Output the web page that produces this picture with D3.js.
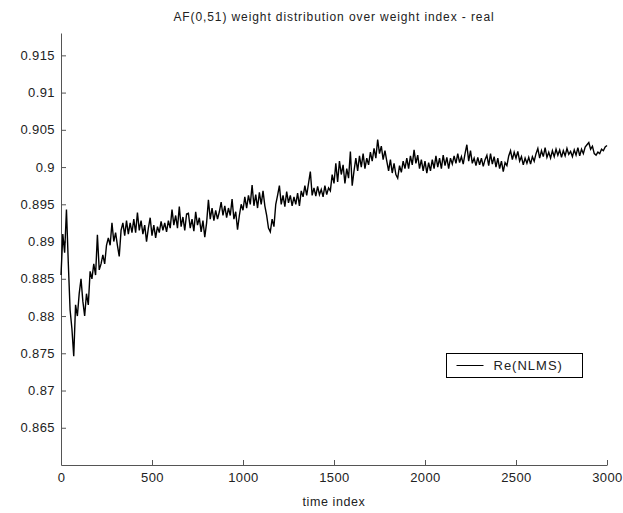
<!DOCTYPE html>
<html>
<head>
<meta charset="utf-8">
<script src="https://cdn.jsdelivr.net/npm/d3@7"></script>
<style>
  body { margin: 0; background: #fff; }
  .chart text { font-family: "Liberation Sans", Arial, sans-serif; fill: #222; }
</style>
</head>
<body>
<div class="chart"></div>
<script>
const timeStep = 10;
const weightRe = [
  0.8855, 0.8910, 0.8885, 0.8943, 0.8872, 0.8808, 0.8783, 0.8746, 0.8815, 0.8800,
  0.8830, 0.8850, 0.8820, 0.8800, 0.8830, 0.8815, 0.8860, 0.8850, 0.8870, 0.8855,
  0.8909, 0.8862, 0.8870, 0.8882, 0.8870, 0.8895, 0.8905, 0.8895, 0.8925, 0.8900,
  0.8912, 0.8895, 0.8880, 0.8915, 0.8925, 0.8908, 0.8928, 0.8910, 0.8925, 0.8912,
  0.8930, 0.8912, 0.8939, 0.8915, 0.8928, 0.8910, 0.8922, 0.8900, 0.8918, 0.8932,
  0.8908, 0.8922, 0.8905, 0.8920, 0.8912, 0.8927, 0.8915, 0.8925, 0.8913, 0.8928,
  0.8918, 0.8943, 0.8922, 0.8935, 0.8918, 0.8947, 0.8920, 0.8933, 0.8915, 0.8937,
  0.8938, 0.8918, 0.8930, 0.8914, 0.8940, 0.8922, 0.8932, 0.8913, 0.8928, 0.8906,
  0.8925, 0.8956, 0.8930, 0.8945, 0.8928, 0.8942, 0.8930, 0.8940, 0.8953, 0.8935,
  0.8948, 0.8932, 0.8945, 0.8935, 0.8957, 0.8930, 0.8940, 0.8916, 0.8935, 0.8950,
  0.8942, 0.8960, 0.8945, 0.8962, 0.8950, 0.8976, 0.8948, 0.8963, 0.8945, 0.8966,
  0.8950, 0.8968, 0.8948, 0.8935, 0.8918, 0.8913, 0.8930, 0.8920, 0.8950, 0.8962,
  0.8975, 0.8950, 0.8962, 0.8947, 0.8967, 0.8952, 0.8962, 0.8948, 0.8960, 0.8950,
  0.8965, 0.8948, 0.8968, 0.8960, 0.8975, 0.8962, 0.8978, 0.8994, 0.8962, 0.8972,
  0.8961, 0.8974, 0.8963, 0.8970, 0.8960, 0.8975, 0.8963, 0.8972, 0.8968, 0.8990,
  0.8978, 0.9005, 0.8980, 0.9008, 0.8990, 0.9003, 0.8978, 0.8998, 0.8985, 0.9021,
  0.8975, 0.8995, 0.9012, 0.8995, 0.9015, 0.9000, 0.9018, 0.8998, 0.9012, 0.9003,
  0.9020, 0.9008, 0.9025, 0.9012, 0.9037, 0.9018, 0.9028, 0.9010, 0.9022, 0.9008,
  0.8995, 0.9010, 0.8992, 0.9005, 0.8990, 0.8985, 0.9002, 0.8993, 0.9008, 0.8998,
  0.9012, 0.8998, 0.9015, 0.9003, 0.9023, 0.9005, 0.9016, 0.8998, 0.9010, 0.8995,
  0.9008, 0.8992, 0.9006, 0.8995, 0.9010, 0.8998, 0.9015, 0.9000, 0.9012, 0.8998,
  0.9016, 0.9002, 0.9013, 0.8998, 0.9012, 0.9004, 0.9015, 0.9005, 0.9018, 0.9006,
  0.9014, 0.9004, 0.9018, 0.9030, 0.9008, 0.9022, 0.9005, 0.9012, 0.9002, 0.9013,
  0.9003, 0.9012, 0.9001, 0.9010, 0.9016, 0.9002, 0.9018, 0.9004, 0.9014, 0.9000,
  0.9012, 0.8998, 0.9008, 0.8994, 0.9006, 0.9002, 0.9015, 0.9022, 0.9010, 0.9020,
  0.9012, 0.9021, 0.9008, 0.9014, 0.9003, 0.9012, 0.9005, 0.9013, 0.9004, 0.9014,
  0.9008, 0.9018, 0.9025, 0.9012, 0.9022, 0.9014, 0.9026, 0.9013, 0.9020, 0.9012,
  0.9022, 0.9014, 0.9024, 0.9016, 0.9023, 0.9013, 0.9022, 0.9015, 0.9025, 0.9017,
  0.9021, 0.9014, 0.9023, 0.9016, 0.9026, 0.9015, 0.9024, 0.9018, 0.9027, 0.9030,
  0.9033, 0.9024, 0.9028, 0.9018, 0.9016, 0.9020, 0.9018, 0.9024, 0.9022, 0.9027,
  0.9029
];
const xTicks = [0, 500, 1000, 1500, 2000, 2500, 3000];
const yTicks = [0.865, 0.87, 0.875, 0.88, 0.885, 0.89, 0.895, 0.9, 0.905, 0.91, 0.915];
const xDomain = [0, 3000];
const yDomain = [0.86, 0.918];
const seriesName = "Re(NLMS)";
const title = "AF(0,51) weight distribution over weight index - real";
const xLabel = "time index";

const width = 623, height = 513;
const margin = { top: 33, right: 16, bottom: 48, left: 61 };
const plotW = width - margin.left - margin.right;
const plotH = height - margin.top - margin.bottom;

const data = weightRe.map((v, i) => ({ t: i * timeStep, v: v }));

const x = d3.scaleLinear().domain(xDomain).range([0, plotW]);
const y = d3.scaleLinear().domain(yDomain).range([plotH, 0]);

const svg = d3.select(".chart")
  .append("svg")
  .attr("width", width)
  .attr("height", height);

svg.append("text")
  .attr("x", margin.left + plotW / 2)
  .attr("y", 21)
  .attr("text-anchor", "middle")
  .style("font-size", "12px")
  .style("letter-spacing", "0.9px")
  .text(title);

const g = svg.append("g")
  .attr("transform", `translate(${margin.left},${margin.top})`);

// x axis, ticks pointing inward like matlab
const xAxis = g.append("g")
  .attr("transform", `translate(0,${plotH})`)
  .call(d3.axisBottom(x).tickValues(xTicks).tickSize(-5).tickSizeOuter(0).tickPadding(8)
    .tickFormat(d3.format("d")));

// y axis
const yAxis = g.append("g")
  .call(d3.axisLeft(y).tickValues(yTicks).tickSize(-5).tickSizeOuter(0).tickPadding(6)
    .tickFormat(d => String(+d.toFixed(3))));

[xAxis, yAxis].forEach(a => {
  a.selectAll("path, line").attr("stroke", "#555");
  a.selectAll("text").style("font-size", "13px").style("letter-spacing", "0.4px").attr("fill", "#222");
});

g.append("text")
  .attr("x", plotW / 2)
  .attr("y", plotH + 41)
  .attr("text-anchor", "middle")
  .style("font-size", "12.5px")
  .style("letter-spacing", "0.6px")
  .text(xLabel);

const line = d3.line()
  .x(d => x(d.t))
  .y(d => y(d.v));

g.append("path")
  .datum(data)
  .attr("fill", "none")
  .attr("stroke", "#000")
  .attr("stroke-width", 1.4)
  .attr("d", line);

// legend
const legend = svg.append("g").attr("transform", "translate(446.5,353.5)");
legend.append("rect")
  .attr("width", 136)
  .attr("height", 24)
  .attr("fill", "#fff")
  .attr("stroke", "#000");
legend.append("line")
  .attr("x1", 10).attr("x2", 37)
  .attr("y1", 12).attr("y2", 12)
  .attr("stroke", "#000");
legend.append("text")
  .attr("x", 47)
  .attr("y", 16.5)
  .style("font-size", "13px")
  .style("letter-spacing", "1px")
  .text(seriesName);
</script>
</body>
</html>
